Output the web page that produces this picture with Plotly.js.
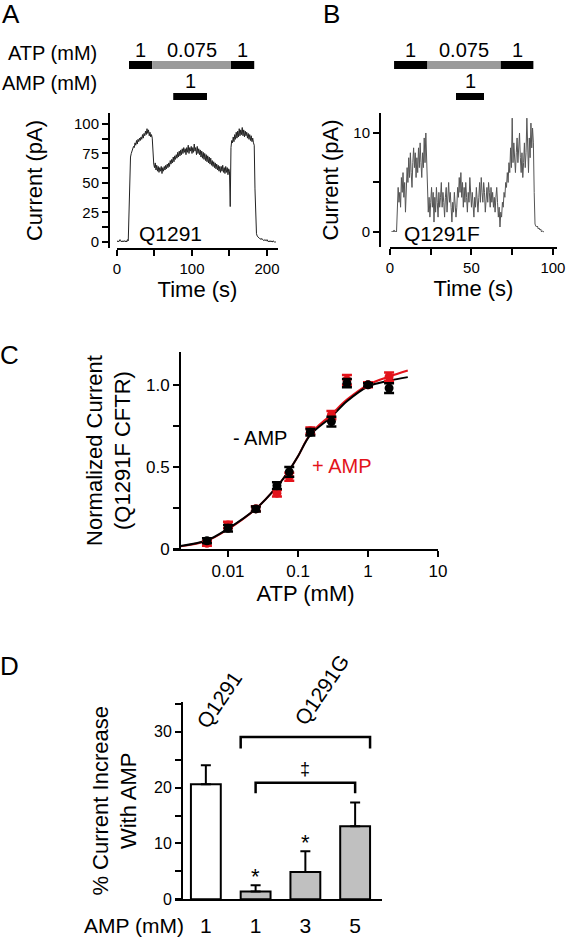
<!DOCTYPE html>
<html><head><meta charset="utf-8">
<script src="https://cdn.plot.ly/plotly-3.0.1.min.js"></script>
<style>html,body{margin:0;padding:0;background:#fff}#chart{width:566px;height:938px}</style>
</head><body><div id="chart"></div>
<script>
// ---------- Panel A: Q1291 current trace (pA), sampled every 1 s from t = 0 s ----------
const traceA_start = 0, traceA_step = 1;
const currentA = [0,1,0,1,2,1,0,1,0,1,1,0,1,0,2,1,
30,68,72,75,77,79,81,80,84,82,86,83,87,85,88,86,89,87,91,88,92,90,94,91,96,92,95,90,93,89,91,88,
68,66,63,67,61,65,60,64,59,63,60,64,58,63,60,64,61,65,62,66,63,67,64,69,66,70,67,72,68,73,70,74,71,76,72,77,73,78,74,79,75,80,76,79,74,80,76,82,75,80,77,81,
75,80,76,83,77,80,74,81,75,79,74,78,72,77,71,76,70,75,69,74,68,73,67,72,66,71,65,69,64,68,63,67,62,66,61,65,60,64,59,64,60,65,59,63,58,64,59,63,57,62,60,
30,80,86,84,89,85,91,87,93,88,94,89,96,90,95,91,97,90,95,89,94,90,93,88,92,87,91,86,90,85,88,84,82,
45,12,7,5,4,4,3,3,2,3,2,2,1,2,1,1,2,1,0,1,0,1,0,0,1,0,0,0,0];
const atpA_edges = [16, 47, 152, 183];        // s : ATP 1 | 0.075 | 1 mM
const atpA_conc = ['1', '0.075', '1'];
const ampA_edges = [75, 120];                 // s : AMP 1 mM
const ampA_conc = '1';

// ---------- Panel B: Q1291F current trace (pA), sampled every 0.5 s from t = 1 s ----------
const traceB_start = 1, traceB_step = 0.5;
const currentB = [0,0.1,0,0.2,0,0.1,0,
3.5,4.5,3,4,2.5,5.5,4,6,3.5,5,2,4,6.5,5,7.5,5.5,8,6,4.5,7,8.5,6.5,8,5.5,7.5,6,8.5,6.5,9,7,5.5,8,6.5,9.5,7,10,7.5,6,
2,3.5,1.5,3,4.5,2.5,4,1,3.5,2,4.5,3,1.5,4,2.5,3.5,5,2.5,4,3,1.5,3.5,4.5,2,3.5,5,3,4,2.5,1,3,2,4,3,1.5,2.5,4.5,3.5,5.5,4,6,3.5,5,2.5,4.5,3,5,3.5,2,4,3,5.5,3.5,2.5,4,3,1.5,3.5,2.5,4.5,3,2,3.5,5,3,5.5,4,3,5,4,2,3.5,4.5,3,5,4,2.5,4.5,3,4,2.5,3.5,2,3.5,4.5,3,1.5,2.5,0.5,2,1.5,3,2.5,
4,3.5,5,4.5,6,5,7,6,8.5,6.5,11.5,7,9,7.5,6,8,9.5,7,8.5,10,7.5,6,8,5.5,7,9,6.5,8,11.5,8,6,9.5,7.5,11,8.5,10.5,9,
4,0.8,0.6,0.5,0.6,0.3,0.4,0.2,0.3,0,0.1,0,0];
const atpB_edges = [2.5, 23, 68, 88];
const atpB_conc = ['1', '0.075', '1'];
const ampB_edges = [40.5, 57.7];
const ampB_conc = '1';

// ---------- Panel C: ATP dose response (Q1291F CFTR) ----------
const atp_mM = [0.005, 0.01, 0.025, 0.05, 0.075, 0.15, 0.3, 0.5, 1, 2];
const normNoAMP = [0.05, 0.126, 0.244, 0.386, 0.47, 0.711, 0.776, 1.01, 1.0, 0.98];
const errNoAMP  = [0.015, 0.02, 0.015, 0.02, 0.03, 0.02, 0.03, 0.025, 0.01, 0.03];
const normWithAMP = [0.035, 0.146, 0.245, 0.34, 0.44, 0.72, 0.816, 1.03, 1.0, 1.05];
const errWithAMP  = [0.015, 0.02, 0.015, 0.02, 0.025, 0.02, 0.025, 0.03, 0.015, 0.025];
const fitATP      = [0.0021, 0.005, 0.01, 0.025, 0.05, 0.075, 0.1, 0.15, 0.3, 0.5, 1, 2, 3.7];
const fitNoAMP    = [0.018, 0.053, 0.124, 0.245, 0.38, 0.48, 0.565, 0.695, 0.806, 0.90, 0.99, 1.025, 1.047];
const fitWithAMP  = [0.016, 0.05, 0.12, 0.245, 0.38, 0.48, 0.565, 0.70, 0.82, 0.91, 1.0, 1.05, 1.087];

// ---------- Panel D: % current increase with AMP ----------
const dGenotype = ['Q1291', 'Q1291G', 'Q1291G', 'Q1291G'];
const dAMP_mM   = ['1', '1', '3', '5'];
const dIncrease = [20.6, 1.4, 4.9, 13.1];
const dSEM      = [3.4, 1.1, 3.7, 4.25];

// ---------- layout helpers ----------
const W = 566, H = 938;
const fx = p => p / W;
const fy = p => 1 - p / H;
const FONT = 'Liberation Sans, Arial, Helvetica, sans-serif';
const genotypeColor = {Q1291: '#ffffff', Q1291G: '#c0c0c0'};

const axisBase = {showline: true, linecolor: '#000', linewidth: 2, ticks: 'outside', ticklen: 6,
  tickwidth: 2, tickcolor: '#000', showgrid: false, zeroline: false, fixedrange: true};

const idx = dIncrease.map((_, i) => i);

const traces = [
  {type: 'scatter', mode: 'lines', x0: traceA_start, dx: traceA_step, y: currentA,
   xaxis: 'x', yaxis: 'y', line: {color: '#222', width: 1}, hoverinfo: 'skip'},
  {type: 'scatter', mode: 'lines', x0: traceB_start, dx: traceB_step, y: currentB,
   xaxis: 'x2', yaxis: 'y2', line: {color: '#555', width: 1}, hoverinfo: 'skip'},
  {type: 'scatter', mode: 'lines', x: fitATP, y: fitWithAMP, xaxis: 'x3', yaxis: 'y3',
   line: {color: '#e3131b', width: 2, shape: 'spline'}},
  {type: 'scatter', mode: 'lines', x: fitATP, y: fitNoAMP, xaxis: 'x3', yaxis: 'y3',
   line: {color: '#000', width: 2, shape: 'spline'}},
  {type: 'scatter', mode: 'markers', x: atp_mM, y: normWithAMP, xaxis: 'x3', yaxis: 'y3',
   marker: {color: '#e3131b', size: 9},
   error_y: {type: 'data', array: errWithAMP, color: '#e3131b', thickness: 2.5, width: 5}},
  {type: 'scatter', mode: 'markers', x: atp_mM, y: normNoAMP, xaxis: 'x3', yaxis: 'y3',
   marker: {color: '#000', size: 9},
   error_y: {type: 'data', array: errNoAMP, color: '#000', thickness: 2.5, width: 5}},
  {type: 'bar', x: idx, y: dIncrease, width: 0.6, xaxis: 'x4', yaxis: 'y4',
   marker: {color: dGenotype.map(g => genotypeColor[g]), line: {color: '#000', width: 2}},
   error_y: {type: 'data', symmetric: false, array: dSEM, arrayminus: dSEM.map(() => 0),
             color: '#000', thickness: 2, width: 5}}
];

const shapes = [];
function stimBars(edges, xref, y0, y1, colors) {
  for (let i = 0; i < edges.length - 1; i++) {
    shapes.push({type: 'rect', xref: xref, yref: 'paper', x0: edges[i], x1: edges[i + 1],
      y0: fy(y1), y1: fy(y0), fillcolor: colors[i], line: {width: 0}, layer: 'above'});
  }
}
stimBars(atpA_edges, 'x', 61, 69, ['#000', '#9a9a9a', '#000']);
stimBars(ampA_edges, 'x', 93, 100, ['#000']);
stimBars(atpB_edges, 'x2', 61, 69, ['#000', '#9a9a9a', '#000']);
stimBars(ampB_edges, 'x2', 93, 100, ['#000']);

// significance brackets in panel D (drawn on the panel's own axes)
const q1291G = idx.filter(i => dGenotype[i] === 'Q1291G');
const gFirst = q1291G[0], gLast = q1291G[q1291G.length - 1];
shapes.push({type: 'path', xref: 'x4', yref: 'y4', line: {color: '#000', width: 2.5},
  path: `M ${gFirst - 0.3} 27 L ${gFirst - 0.3} 29.1 L ${gLast + 0.3} 29.1 L ${gLast + 0.3} 27`});
shapes.push({type: 'path', xref: 'x4', yref: 'y4', line: {color: '#000', width: 2.5},
  path: `M ${gFirst} 19 L ${gFirst} 20.9 L ${gLast} 20.9 L ${gLast} 19`});

const ann = [];
function txt(text, xp, yp, size, extra) {
  ann.push(Object.assign({text: text, xref: 'paper', yref: 'paper', x: fx(xp), y: fy(yp),
    showarrow: false, xanchor: 'center', yanchor: 'middle', font: {size: size, color: '#000', family: FONT}}, extra || {}));
}
function stimLabels(edges, conc, xref, yp) {
  for (let i = 0; i < edges.length - 1; i++) {
    ann.push({text: Array.isArray(conc) ? conc[i] : conc, xref: xref, yref: 'paper',
      x: (edges[i] + edges[i + 1]) / 2, y: fy(yp), showarrow: false, xanchor: 'center', yanchor: 'middle',
      font: {size: 20, color: '#000', family: FONT}});
  }
}
// panel letters
txt('A', 11, 14, 26); txt('B', 331, 14, 26); txt('C', 9, 355, 26); txt('D', 9, 666, 26);
// solution labels
txt('ATP (mM)', 99, 53, 20, {xanchor: 'right'});
txt('AMP (mM)', 99, 83, 20, {xanchor: 'right'});
stimLabels(atpA_edges, atpA_conc, 'x', 50);
stimLabels(ampA_edges, ampA_conc, 'x', 81);
stimLabels(atpB_edges, atpB_conc, 'x2', 50);
stimLabels(ampB_edges, ampB_conc, 'x2', 81);
txt('Q1291', 170, 233, 21);
txt('Q1291F', 442, 233, 21);
txt('- AMP', 260, 438, 20);
txt('+ AMP', 341, 466, 20, {font: {size: 20, color: '#e3131b', family: FONT}});
// panel D labels
txt('AMP (mM)', 186, 925, 21, {xanchor: 'right'});
txt('Q1291', 219, 699, 21, {textangle: -56});
txt('Q1291G', 321, 690, 21, {textangle: -56});
ann.push({text: '*', xref: 'x4', yref: 'y4', x: 1, y: dIncrease[1] + dSEM[1], yanchor: 'bottom', yshift: -6,
  showarrow: false, font: {size: 22, color: '#000', family: FONT}});
ann.push({text: '*', xref: 'x4', yref: 'y4', x: 2, y: dIncrease[2] + dSEM[2], yanchor: 'bottom', yshift: -6,
  showarrow: false, font: {size: 22, color: '#000', family: FONT}});
ann.push({text: '‡', xref: 'x4', yref: 'y4', x: 2, y: 23.4, yanchor: 'middle',
  showarrow: false, font: {size: 18, color: '#000', family: FONT}});

const layout = {
  width: W, height: H, autosize: false, showlegend: false,
  margin: {l: 0, r: 0, t: 0, b: 0, pad: 0},
  paper_bgcolor: '#fff', plot_bgcolor: 'rgba(0,0,0,0)',
  font: {family: FONT, color: '#000', size: 15},
  xaxis: Object.assign({}, axisBase, {domain: [fx(117), fx(278)], range: [0, 214.7], anchor: 'y',
    tickvals: [0, 50, 100, 150, 200], ticktext: ['0', '', '100', '', '200'], tickfont: {size: 15},
    title: {text: 'Time (s)', font: {size: 22}, standoff: 4}}),
  yaxis: Object.assign({}, axisBase, {domain: [fy(248), fy(113)], range: [-5.1, 109.3], anchor: 'free', position: fx(109),
    tickvals: [0, 12.5, 25, 37.5, 50, 62.5, 75, 87.5, 100], ticktext: ['0', '', '25', '', '50', '', '75', '', '100'],
    tickfont: {size: 15}, title: {text: 'Current (pA)', font: {size: 22}, standoff: 24}}),
  xaxis2: Object.assign({}, axisBase, {domain: [fx(390), fx(557)], range: [0, 102.5], anchor: 'y2',
    tickvals: [0, 25, 50, 75, 100], ticktext: ['0', '', '50', '', '100'], tickfont: {size: 15},
    title: {text: 'Time (s)', font: {size: 22}, standoff: 4}}),
  yaxis2: Object.assign({}, axisBase, {domain: [fy(247), fy(113)], range: [-1.52, 12.02], anchor: 'free', position: fx(380),
    tickvals: [0, 5, 10], ticktext: ['0', '', '10'], tickfont: {size: 15},
    title: {text: 'Current (pA)', font: {size: 22}, standoff: 8}}),
  xaxis3: Object.assign({}, axisBase, {type: 'log', domain: [fx(173), fx(438)], range: [-2.786, 1], anchor: 'y3',
    tickvals: [0.01, 0.1, 1, 10], ticktext: ['0.01', '0.1', '1', '10'], tickfont: {size: 17},
    title: {text: 'ATP (mM)', font: {size: 22}, standoff: 2}}),
  yaxis3: Object.assign({}, axisBase, {domain: [fy(549), fy(352)], range: [0, 1.2], anchor: 'free', position: fx(180),
    tickvals: [0, 0.25, 0.5, 0.75, 1], ticktext: ['0', '', '0.5', '', '1.0'], tickfont: {size: 17},
    title: {text: 'Normalized Current<br>(Q1291F CFTR)', font: {size: 22}, standoff: 8}}),
  xaxis4: Object.assign({}, axisBase, {domain: [fx(175), fx(382)], range: [-0.62, 3.54], anchor: 'y4',
    tickvals: idx, ticktext: dAMP_mM, tickfont: {size: 21}, tickcolor: 'rgba(0,0,0,0)', ticklen: 6}),
  yaxis4: Object.assign({}, axisBase, {domain: [fy(899.3), fy(702.3)], range: [0, 35.3], anchor: 'free', position: fx(182),
    tickvals: [0, 5, 10, 15, 20, 25, 30, 35], ticktext: ['0', '', '10', '', '20', '', '30', ''], tickfont: {size: 16},
    title: {text: '% Current Increase<br>With AMP', font: {size: 22}, standoff: 10}}),
  shapes: shapes,
  annotations: ann
};

Plotly.newPlot('chart', traces, layout, {staticPlot: true, displayModeBar: false});
</script></body></html>
